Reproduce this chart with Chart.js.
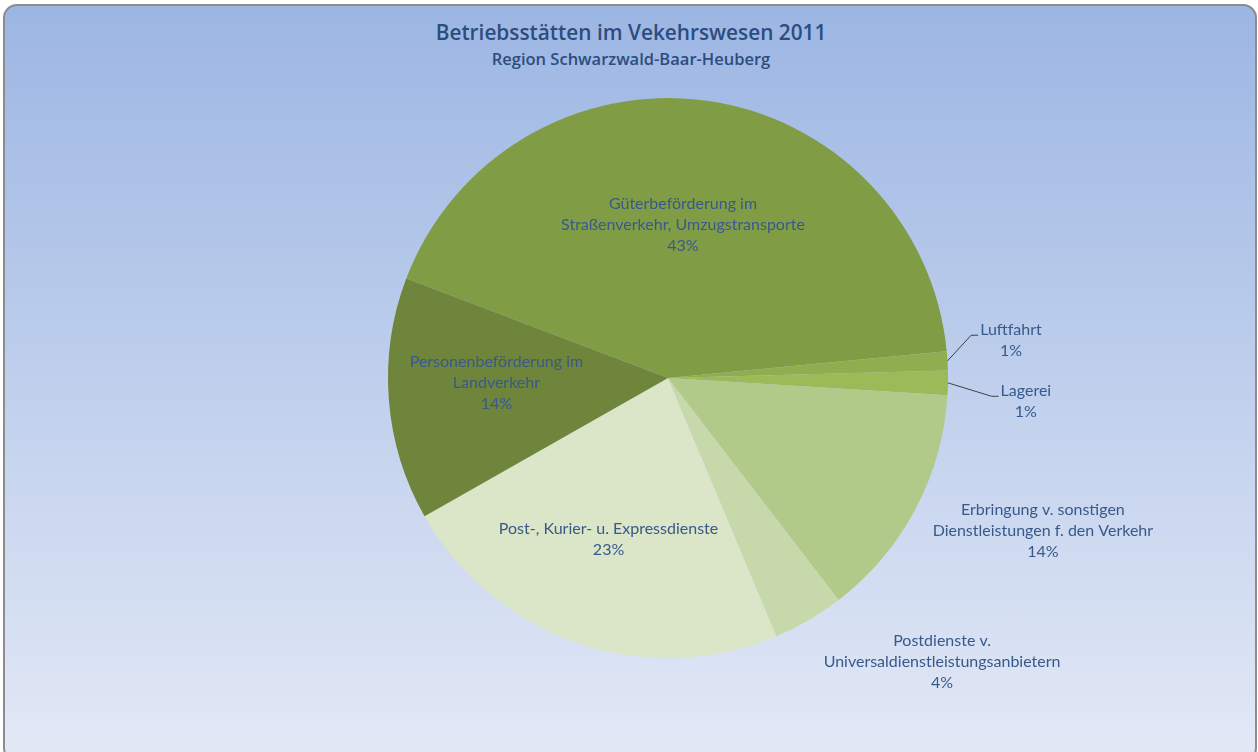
<!DOCTYPE html>
<html>
<head>
<meta charset="utf-8">
<script src="https://cdn.jsdelivr.net/npm/chart.js@4"></script>
<style>
html, body { margin:0; padding:0; width:1258px; height:752px; overflow:hidden; background:#fff; }
#box { position:absolute; left:3px; top:4px; width:1254px; height:758px; box-sizing:border-box;
       border:2px solid #8c8c8c; border-radius:14px;
       background:linear-gradient(#9cb6e3, #e3e9f6); }
.t { position:absolute; left:0; width:1262px; text-align:center; color:#2c4d7e; font-family:"Open Sans", sans-serif; font-weight:600; }
#t1 { top:18px; font-size:20.8px; }
#t2 { top:47px; font-size:16.5px; }
#chart { position:absolute; left:0; top:0; }
</style>
</head>
<body>
<div id="box"></div>
<div class="t" id="t1">Betriebsstätten im Vekehrswesen 2011</div>
<div class="t" id="t2">Region Schwarzwald-Baar-Heuberg</div>
<canvas id="chart" width="1258" height="752"></canvas>
<script>
// Kategorien (Zeilen für die Beschriftung)
const categoryLines = [
  ["Güterbeförderung im", "Straßenverkehr, Umzugstransporte"],
  ["Luftfahrt"],
  ["Lagerei"],
  ["Erbringung v. sonstigen", "Dienstleistungen f. den Verkehr"],
  ["Postdienste v.", "Universaldienstleistungsanbietern"],
  ["Post-, Kurier- u. Expressdienste"],
  ["Personenbeförderung im", "Landverkehr"]
];
// Anteile in %
const shares = [42.7, 1.1, 1.4, 13.6, 4.1, 23.1, 14.0];
const sliceColors = ["#809d46", "#8fae4f", "#9bbb59", "#b2ca89", "#c7d8aa", "#dbe5c7", "#6e853b"];

// Lage der Beschriftung: Winkel (Grad, im Uhrzeigersinn ab 12 Uhr) und Abstand in Radien
const labelPlacement = [
  {angle: 5.6,   dist: 0.549},
  {angle: 83.8,  dist: 1.232, leader: true},
  {angle: 93.8,  dist: 1.281, leader: true},
  {angle: 112.2, dist: 1.446},
  {angle: 136.0, dist: 1.409},
  {angle: 200.2, dist: 0.615},
  {angle: 268.3, dist: 0.613}
];

const pieLabels = {
  id: "pieLabels",
  afterDatasetsDraw(chart){
    const ctx = chart.ctx;
    const arcs = chart.getDatasetMeta(0).data;
    const data = chart.data.datasets[0].data;
    const total = data.reduce((a,b)=>a+b, 0);
    ctx.save();
    ctx.font = "16px Lato";
    ctx.fillStyle = "#38598c";
    ctx.textAlign = "center";
    ctx.textBaseline = "middle";
    arcs.forEach((arc, i)=>{
      const p = labelPlacement[i];
      const {x, y, outerRadius, startAngle, endAngle} = arc.getProps(["x","y","outerRadius","startAngle","endAngle"], true);
      const a = p.angle*Math.PI/180 - Math.PI/2;
      const lx = x + Math.cos(a)*outerRadius*p.dist;
      const ly = y + Math.sin(a)*outerRadius*p.dist;
      const lines = [...categoryLines[i], Math.round(data[i]/total*100) + "%"];
      const lh = 21;
      const y0 = ly - (lines.length-1)*lh/2;
      lines.forEach((t,k)=> ctx.fillText(t, lx, y0 + k*lh));
      if(p.leader){
        const mid = (startAngle+endAngle)/2;
        const sx = x + Math.cos(mid)*outerRadius;
        const sy = y + Math.sin(mid)*outerRadius;
        const w = ctx.measureText(lines[0]).width;
        const ex = lx - w/2 - 2, ey = y0 + 5;
        ctx.strokeStyle = "#404040";
        ctx.lineWidth = 1;
        ctx.beginPath();
        ctx.moveTo(sx, sy);
        ctx.lineTo(ex - 7, ey);
        ctx.lineTo(ex, ey);
        ctx.stroke();
      }
    });
    ctx.restore();
  }
};

new Chart(document.getElementById("chart"), {
  type: "pie",
  data: {
    labels: categoryLines.map(l=>l.join(" ")),
    datasets: [{
      data: shares,
      backgroundColor: sliceColors,
      borderWidth: 0,
      hoverOffset: 0
    }]
  },
  options: {
    responsive: false,
    animation: false,
    devicePixelRatio: 1,
    rotation: -69.2,
    layout: { padding: {top: 98, bottom: 94, left: 120, right: 42} },
    plugins: {
      legend: {display: false},
      tooltip: {enabled: false}
    }
  },
  plugins: [pieLabels]
});
</script>
</body>
</html>
